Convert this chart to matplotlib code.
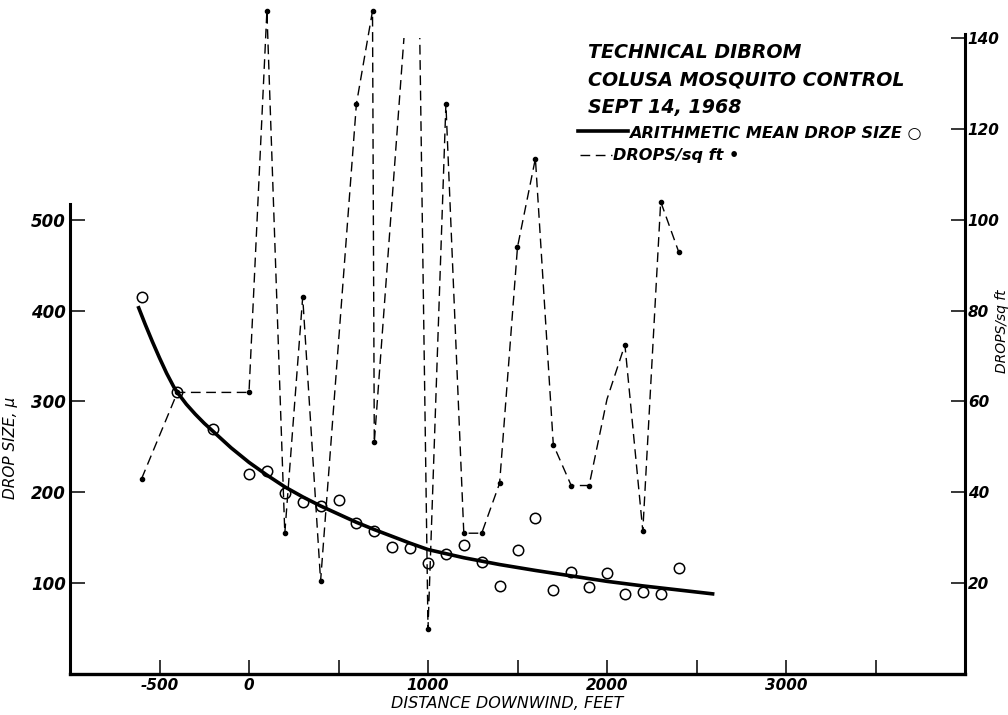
import matplotlib
matplotlib.use("Agg")
import matplotlib.pyplot as plt
from matplotlib.lines import Line2D
from matplotlib.patches import Polygon

# sampling stations, feet downwind of the spray line
station_ft = [-600, -400, -200, 0, 100, 200, 300, 400, 500, 600, 700, 800, 900, 1000,
              1100, 1200, 1300, 1400, 1500, 1600, 1700, 1800, 1900, 2000, 2100, 2200,
              2300, 2400]
# arithmetic mean drop size, microns
drop_size = [415, 310, 270, 220, 223, 199, 189, 185, 192, 166, 157, 140, 139, 122,
             132, 142, 123, 97, 136, 172, 92, 112, 96, 111, 88, 90, 88, 117]

# smoothed mean drop size curve
fit_ft = [-620, -580, -540, -500, -460, -420, -400, -350, -300, -250, -200, -100, 0,
          100, 200, 300, 400, 500, 600, 700, 800, 900, 1000, 1200, 1400, 1600, 1800,
          2000, 2200, 2400, 2600]
fit_size = [405, 385, 366, 348, 331, 316, 310, 297, 286, 276, 267, 249, 233,
            219, 206, 195, 185, 176, 167, 159, 151.5, 144, 137, 128, 120.5, 114, 108,
            102, 97, 92.5, 88]

# drops per square foot (right scale); 940 ft ran off the top of the scale
drops_ft = [-600, -400, 0, 100, 200, 300, 400, 600, 690, 700, 940, 1000, 1100, 1200,
            1300, 1400, 1500, 1600, 1700, 1800, 1900, 2000, 2100, 2200, 2300, 2400]
drops_sqft = [43, 62, 62, 146, 31, 83, 20.5, 125.5, 146, 51, 180, 10, 125.5, 31,
              31, 42, 94, 113.5, 50.5, 41.5, 41.5, 60.5, 72.5, 31.5, 104, 93]
dotted = [i for i, x in enumerate(drops_ft) if x not in (940, 2000)]

SCALE_TOP = 140      # drops/sq ft where the off-scale run is cut
W, H = 1008, 715

def fx(px):
    return px / W

def fy(py):
    return 1 - py / H

LBL = dict(fontstyle="italic", fontweight="bold", family="DejaVu Sans")

fig = plt.figure(figsize=(W / 100, H / 100), dpi=100)
ax = fig.add_axes([fx(70), 41 / H, 895 / W, 674 / H])
ax2 = ax.twinx()

ax.set_xlim(-1000, 4000)
ax.set_ylim(0, 742)
ax2.set_ylim(0, 742 / 5)

# mean drop size
ax.plot(fit_ft, fit_size, color="black", lw=2.6, solid_capstyle="butt", zorder=3)
ax.plot(station_ft, drop_size, "o", mfc="none", mec="black", ms=7.5, mew=1.1, zorder=4)

# drops per sq ft
line, = ax2.plot(drops_ft, drops_sqft, color="black", lw=1.0, ls=(0, (7, 4)),
                 marker="o", ms=3, markevery=dotted, zorder=5)
clip = Polygon([(-1000, 0), (4000, 0), (4000, 160), (990, 160), (990, SCALE_TOP),
                (750, SCALE_TOP), (750, 160), (-1000, 160)],
               closed=True, transform=ax2.transData, fill=False, visible=False)
ax2.add_patch(clip)
line.set_clip_path(clip)

# spines
for s in ("top", "right"):
    ax.spines[s].set_visible(False)
for s in ("top", "left", "bottom"):
    ax2.spines[s].set_visible(False)
ax.spines["left"].set_linewidth(2.2)
ax.spines["left"].set_bounds(0, 517)
ax.spines["bottom"].set_linewidth(2.4)
ax2.spines["right"].set_linewidth(2.2)
ax2.spines["right"].set_bounds(0, 141)

ax.set_xticks(range(-500, 4000, 500))
ax.set_xticklabels(["-500", "0", "", "1000", "", "2000", "", "3000", ""])
ax.set_yticks([100, 200, 300, 400, 500])
ax2.set_yticks([20, 40, 60, 80, 100, 120, 140])

ax.tick_params(axis="x", direction="in", length=10, width=1.1, pad=3, labelsize=11)
ax.tick_params(axis="y", direction="in", length=11, width=1.1, pad=3, labelsize=12)
ax2.tick_params(axis="y", direction="in", length=10, width=1.1, pad=2, labelsize=11)
for t in ax.get_xticklabels() + ax.get_yticklabels() + ax2.get_yticklabels():
    t.set_fontstyle("italic")
    t.set_fontweight("bold")

ax.set_xlabel("DISTANCE DOWNWIND, FEET", fontsize=11.5, fontstyle="italic")
ax.xaxis.set_label_coords((507 - 70) / 895, -0.033)
ax.set_ylabel("DROP SIZE, \u03bc", fontsize=11, fontstyle="italic")
ax.yaxis.set_label_coords(-(70 - 18) / 895, (673 - 447) / 674)
ax2.set_ylabel("DROPS/sq ft", fontsize=10, fontstyle="italic", rotation=90)
ax2.yaxis.set_label_coords((995 - 70) / 895, (673 - 330) / 674)

# heading
for i, txt in enumerate(["TECHNICAL DIBROM", "COLUSA MOSQUITO CONTROL", "SEPT 14, 1968"]):
    fig.text(fx(588), fy(58 + 27.5 * i), txt, fontsize=13.7, va="baseline", **LBL)

# key
fig.add_artist(Line2D([fx(578), fx(628)], [fy(131)] * 2, color="black", lw=2.6))
fig.text(fx(629), fy(138), "ARITHMETIC MEAN DROP SIZE \u25cb", fontsize=11.6,
         va="baseline", **LBL)
fig.add_artist(Line2D([fx(580), fx(612)], [fy(155)] * 2, color="black", lw=1.0,
                      ls=(0, (7, 4))))
fig.text(fx(613), fy(160), "DROPS/sq ft \u2022", fontsize=11.6, va="baseline", **LBL)

fig.savefig("out.png", dpi=100)
